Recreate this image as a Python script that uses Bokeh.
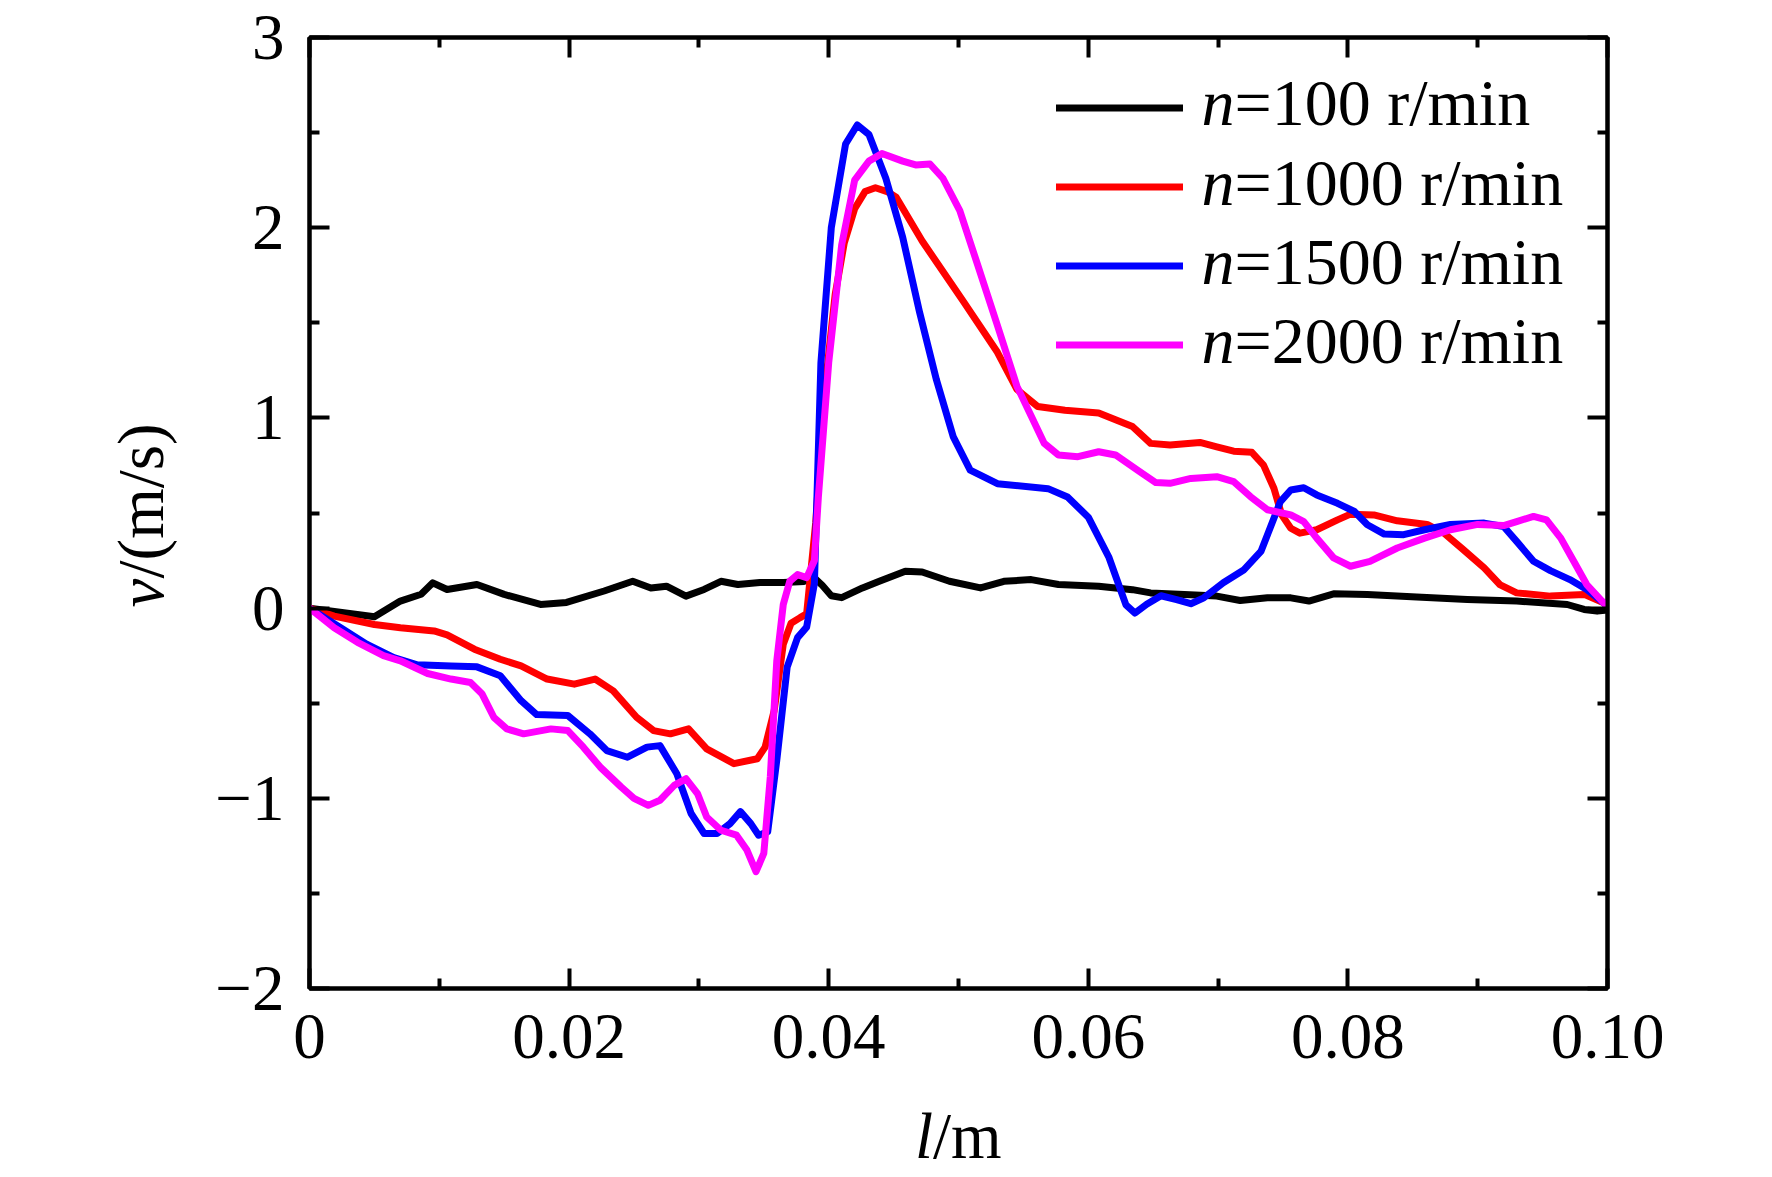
import math
from bokeh.plotting import figure
from bokeh.models import Range1d, LinearAxis, FixedTicker, Label, Legend, LegendItem
from bokeh.embed import file_html
from bokeh.resources import INLINE

# ---------------- data ----------------
x_ticks = [0, 0.02, 0.04, 0.06, 0.08, 0.1]
x_tick_labels = ["0", "0.02", "0.04", "0.06", "0.08", "0.10"]
x_minor_ticks = [0.01, 0.03, 0.05, 0.07, 0.09]
y_ticks = [-2, -1, 0, 1, 2, 3]
y_tick_labels = ["\u22122", "\u22121", "0", "1", "2", "3"]
y_minor_ticks = [-1.5, -0.5, 0.5, 1.5, 2.5]

series_speed = ["100", "1000", "1500", "2000"]
series_colors = ["#000000", "#ff0000", "#0000ff", "#ff00ff"]

l_n100 = [0, 0.005, 0.007, 0.0086, 0.0095, 0.0106, 0.0129, 0.015, 0.0178, 0.0198,
          0.0227, 0.0249, 0.0263, 0.0275, 0.029, 0.0304, 0.0317, 0.033, 0.0347, 0.0365,
          0.0381, 0.0388, 0.0395, 0.0402, 0.041, 0.0426, 0.0439, 0.0459, 0.0472, 0.0493,
          0.0517, 0.0535, 0.0556, 0.0577, 0.0608, 0.0634, 0.0648, 0.0674, 0.0699, 0.0717,
          0.0738, 0.0756, 0.077, 0.0789, 0.0815, 0.0853, 0.0892, 0.093, 0.0969, 0.0982,
          0.0992, 0.1]
v_n100 = [0, -0.045, 0.037, 0.073, 0.133, 0.098, 0.124, 0.072, 0.019, 0.03,
          0.09, 0.141, 0.106, 0.115, 0.063, 0.098, 0.141, 0.124, 0.135, 0.135,
          0.14, 0.165, 0.12, 0.065, 0.055, 0.106, 0.141, 0.194, 0.19, 0.141,
          0.106, 0.141, 0.15, 0.124, 0.115, 0.097, 0.08, 0.072, 0.063, 0.04,
          0.054, 0.054, 0.037, 0.075, 0.072, 0.058, 0.045, 0.037, 0.019, -0.007,
          -0.016, -0.01]

l_n1000 = [0, 0.0019, 0.005, 0.007, 0.0096, 0.0106, 0.0127, 0.0147, 0.0163, 0.0183,
           0.0204, 0.022, 0.0234, 0.0252, 0.0265, 0.0278, 0.0292, 0.0306, 0.0327, 0.0345,
           0.0351, 0.0358, 0.0365, 0.0371, 0.0378, 0.0383, 0.039, 0.0397, 0.0405, 0.0412,
           0.042, 0.0428, 0.0436, 0.0445, 0.0452, 0.0472, 0.0504, 0.053, 0.0545, 0.0561,
           0.0582, 0.0608, 0.0634, 0.0648, 0.0663, 0.0686, 0.0699, 0.0712, 0.0726, 0.0735,
           0.0743, 0.0749, 0.0756, 0.0763, 0.0776, 0.0792, 0.0802, 0.082, 0.0838, 0.0861,
           0.0874, 0.0889, 0.0905, 0.0917, 0.093, 0.0956, 0.0982, 0.0997, 0.1]
v_n1000 = [0, -0.042, -0.086, -0.103, -0.12, -0.141, -0.216, -0.269, -0.304, -0.373,
           -0.4, -0.373, -0.435, -0.574, -0.644, -0.661, -0.635, -0.74, -0.818, -0.792,
           -0.731, -0.539, -0.19, -0.08, -0.05, -0.03, 0.45, 1.15, 1.65, 1.92,
           2.1, 2.19, 2.21, 2.19, 2.16, 1.93, 1.61, 1.345, 1.15, 1.06,
           1.04, 1.026, 0.955, 0.866, 0.857, 0.871, 0.848, 0.825, 0.819, 0.752,
           0.63, 0.49, 0.42, 0.394, 0.412, 0.464, 0.494, 0.49, 0.459, 0.44,
           0.394, 0.307, 0.211, 0.124, 0.08, 0.063, 0.072, 0.028, 0.01]

l_n1500 = [0, 0.0024, 0.0044, 0.0065, 0.0083, 0.0109, 0.0129, 0.0147, 0.0163, 0.0175,
           0.0199, 0.0216, 0.0229, 0.0245, 0.026, 0.027, 0.0283, 0.0294, 0.0304, 0.0314,
           0.0324, 0.0332, 0.034, 0.0346, 0.0353, 0.036, 0.0368, 0.0376, 0.0383, 0.0389,
           0.0394, 0.0402, 0.0413, 0.0422, 0.0431, 0.0444, 0.0457, 0.047, 0.0483, 0.0496,
           0.0509, 0.053, 0.0569, 0.0584, 0.06, 0.0616, 0.0629, 0.0636, 0.0645, 0.0656,
           0.0668, 0.0679, 0.0689, 0.0704, 0.072, 0.0733, 0.074, 0.0748, 0.0756, 0.0766,
           0.0776, 0.0792, 0.0805, 0.0815, 0.0828, 0.0843, 0.0859, 0.0879, 0.0905, 0.092,
           0.093, 0.0943, 0.0956, 0.0971, 0.0984, 0.0997, 0.1]
v_n1500 = [0, -0.103, -0.19, -0.26, -0.298, -0.304, -0.309, -0.356, -0.487, -0.56,
           -0.565, -0.661, -0.749, -0.784, -0.731, -0.723, -0.871, -1.08, -1.185, -1.185,
           -1.133, -1.07, -1.133, -1.194, -1.176, -0.8, -0.31, -0.155, -0.1, 0.13,
           1.29, 2.0, 2.44, 2.54, 2.49, 2.26, 1.95, 1.556, 1.2, 0.9,
           0.725, 0.654, 0.628, 0.584, 0.478, 0.265, 0.017, -0.026, 0.02, 0.065,
           0.045, 0.023, 0.054, 0.133, 0.202, 0.298, 0.42, 0.56, 0.621, 0.633,
           0.595, 0.551, 0.508, 0.438, 0.389, 0.386, 0.412, 0.44, 0.447, 0.429,
           0.351, 0.246, 0.197, 0.15, 0.098, 0.028, 0.01]

l_n2000 = [0, 0.0019, 0.0037, 0.0057, 0.007, 0.0091, 0.0109, 0.0124, 0.0133, 0.0142,
           0.0152, 0.0165, 0.0186, 0.0199, 0.0211, 0.0224, 0.024, 0.025, 0.0261, 0.027,
           0.0281, 0.029, 0.0299, 0.0306, 0.0317, 0.0329, 0.0337, 0.0344, 0.035, 0.0355,
           0.036, 0.0365, 0.037, 0.0376, 0.0383, 0.0389, 0.0392, 0.04, 0.041, 0.042,
           0.0431, 0.0441, 0.0457, 0.0467, 0.0478, 0.0488, 0.0501, 0.0514, 0.053, 0.0545,
           0.0556, 0.0566, 0.0577, 0.0592, 0.0608, 0.0621, 0.0639, 0.0652, 0.0663, 0.0679,
           0.0699, 0.0712, 0.0725, 0.0738, 0.0756, 0.0766, 0.0776, 0.0789, 0.0802, 0.0817,
           0.0838, 0.0859, 0.0879, 0.09, 0.092, 0.093, 0.0943, 0.0953, 0.0964, 0.0974,
           0.0984, 0.0997, 0.1]
v_n2000 = [0, -0.103, -0.18, -0.25, -0.277, -0.344, -0.373, -0.391, -0.452, -0.574,
           -0.635, -0.661, -0.635, -0.644, -0.731, -0.836, -0.94, -1.0, -1.037, -1.01,
           -0.932, -0.897, -0.976, -1.098, -1.168, -1.194, -1.272, -1.386, -1.29, -0.888,
           -0.277, 0.019, 0.141, 0.176, 0.16, 0.25, 0.58, 1.29, 1.91, 2.25,
           2.35, 2.39, 2.35, 2.33, 2.335, 2.26, 2.09, 1.82, 1.486, 1.167,
           1.01, 0.867, 0.805, 0.796, 0.822, 0.805, 0.72, 0.66, 0.656, 0.682,
           0.691, 0.665, 0.586, 0.517, 0.49, 0.455, 0.368, 0.264, 0.22, 0.246,
           0.316, 0.368, 0.412, 0.44, 0.434, 0.455, 0.482, 0.464, 0.368, 0.246,
           0.124, 0.028, 0.01]

series_l = [l_n100, l_n1000, l_n1500, l_n2000]
series_v = [v_n100, v_n1000, v_n1500, v_n2000]

# ---------------- layout (pixels in the screenshot) ----------------
FONT = "Liberation Serif"
FS = "65px"
FS_LEG = "66px"
W, H = 1766, 1176
F_LEFT, F_RIGHT, F_TOP, F_BOTTOM = 309, 1607, 37, 988  # frame edges
X0, X1, Y0, Y1 = 0.0, 0.1, -2.0, 3.0
MID = 22  # distance from text baseline to the middle of the em box


def px_x(px):
    return X0 + (px - F_LEFT) * (X1 - X0) / (F_RIGHT - F_LEFT)


def px_y(py):
    return Y1 - (py - F_TOP) * (Y1 - Y0) / (F_BOTTOM - F_TOP)


p = figure(width=W, height=H, x_range=Range1d(X0, X1), y_range=Range1d(Y0, Y1),
           output_backend="svg", toolbar_location=None,
           min_border_left=F_LEFT, min_border_right=W - F_RIGHT,
           min_border_top=F_TOP, min_border_bottom=H - F_BOTTOM)
p.grid.visible = False
p.background_fill_color = "white"
p.border_fill_color = "white"
p.outline_line_color = "black"
p.outline_line_width = 4

bottom_axis = p.below[0]
left_axis = p.left[0]
top_axis = LinearAxis()
right_axis = LinearAxis()
p.add_layout(top_axis, "above")
p.add_layout(right_axis, "right")

xt = FixedTicker(ticks=x_ticks, minor_ticks=x_minor_ticks)
yt = FixedTicker(ticks=y_ticks, minor_ticks=y_minor_ticks)


def style_axis(ax, ticker, show):
    ax.ticker = ticker
    ax.axis_line_width = 4
    ax.axis_line_color = "black"
    ax.major_tick_in = 20
    ax.major_tick_out = 0
    ax.minor_tick_in = 10
    ax.minor_tick_out = 0
    ax.major_tick_line_width = 4
    ax.minor_tick_line_width = 4
    ax.major_tick_line_color = "black"
    ax.minor_tick_line_color = "black"
    ax.major_label_text_font = FONT
    ax.major_label_text_font_style = "normal"
    if show:
        ax.major_label_text_font_size = FS
        ax.major_label_text_color = "black"
    else:
        ax.major_label_text_font_size = "1px"
        ax.major_label_text_color = None
        ax.major_label_standoff = 0


style_axis(bottom_axis, xt, True)
style_axis(left_axis, yt, True)
style_axis(top_axis, xt, False)
style_axis(right_axis, yt, False)
bottom_axis.major_label_overrides = dict(zip(x_ticks, x_tick_labels))
left_axis.major_label_overrides = dict(zip(y_ticks, y_tick_labels))
bottom_axis.major_label_standoff = 26
left_axis.major_label_standoff = 25

renderers = []
for l, v, c in zip(series_l, series_v, series_colors):
    r = p.line(l, v, line_color=c, line_width=7, line_join="round", line_cap="round")
    renderers.append(r)

# legend: library legend draws the line samples, its texts are drawn as labels
items = [LegendItem(label="n=%s r/min" % s, renderers=[r]) for s, r in zip(series_speed, renderers)]
legend = Legend(items=items, location=(1056 - F_LEFT, F_BOTTOM - 384), orientation="vertical",
                glyph_width=127, glyph_height=79, label_height=79, spacing=0,
                padding=0, margin=0, label_standoff=40,
                border_line_color=None, background_fill_alpha=0,
                label_text_font=FONT, label_text_font_size=FS,
                label_text_color=None, label_text_alpha=0)
p.add_layout(legend)


def text_label(px, py, text, italic=False, angle=0.0, size=FS):
    return Label(x=px_x(px), y=px_y(py), text=text, text_font=FONT,
                 text_font_style="italic" if italic else "normal",
                 text_font_size=size, text_color="black", angle=angle,
                 text_align="left", text_baseline="middle")


row_baselines = [123.5, 203.5, 283, 361.5]
for b, s in zip(row_baselines, series_speed):
    p.add_layout(text_label(1201, b - MID, "n", italic=True, size=FS_LEG))
    p.add_layout(text_label(1234, b - MID, "=%s r/min" % s, size=FS_LEG))

# axis titles with italic symbols (placed in the side panels so they are not clipped)
p.add_layout(text_label(914.5, 1157 - MID, "l", italic=True), "below")
p.add_layout(text_label(932.5, 1157 - MID, "/m"), "right")
p.add_layout(text_label(162 - MID, 607, "v", italic=True, angle=math.pi / 2), "left")
p.add_layout(text_label(162 - MID, 578, "/(m/s)", angle=math.pi / 2), "left")

open("out.html", "w").write(file_html(p, INLINE))
